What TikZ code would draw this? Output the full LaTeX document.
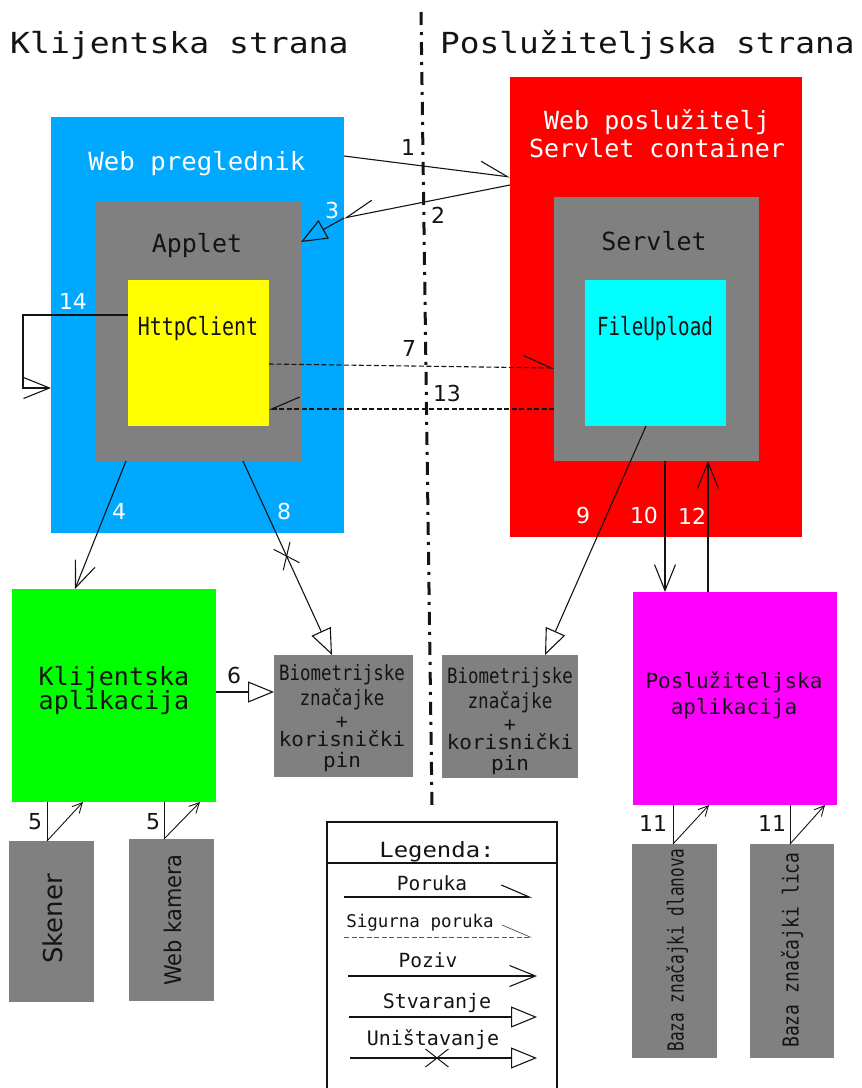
\documentclass[tikz,border=0pt]{standalone}
\usepackage{fontspec}
\usepackage{graphicx}
\setmainfont{DejaVu Sans Mono}
\newfontfamily\dvsans{DejaVu Sans}
\usetikzlibrary{arrows.meta,shapes.misc}
\newcommand\myfs[1]{\fontsize{#1}{#1}\selectfont}
\newcommand\sx[2]{\scalebox{#1}[1]{#2}}
\definecolor{cblue}{RGB}{0,168,255}
\definecolor{cgray}{RGB}{128,128,128}
\definecolor{cred}{RGB}{255,0,0}
\definecolor{cyel}{RGB}{255,255,0}
\definecolor{ccyan}{RGB}{0,255,255}
\definecolor{cgreen}{RGB}{0,255,0}
\definecolor{cmag}{RGB}{255,0,255}
\definecolor{ink}{RGB}{20,20,20}
\begin{document}
\begin{tikzpicture}[x=1pt,y=-1pt,
  box/.style={anchor=north west,inner sep=0pt,outer sep=0pt,draw=none},
  txt/.style={anchor=base,inner sep=0pt,text=ink},
  wtxt/.style={anchor=base,inner sep=0pt,text=white},
  num/.style={inner sep=0pt,font=\dvsans\myfs{22},text=ink},
  wnum/.style={num,text=white},
  con/.style={line width=1.1pt,draw=ink},
  msgl/.style={con,-{Straight Barb[left,length=28pt,width=24pt]}},
  msgr/.style={con,-{Straight Barb[right,length=28pt,width=24pt]}},
  call/.style={con,-{Straight Barb[length=26pt,width=21pt]}},
  minicall/.style={con,line width=0.9pt,-{Straight Barb[length=10pt,width=10pt]}},
  create/.style={con,-{Triangle[open,length=26pt,width=21pt]}},
  secure/.style={dash pattern=on 5pt off 2.5pt},
  xmark/.style={draw=ink,line width=1pt,cross out,sloped,minimum width=22pt,minimum height=17pt,inner sep=0pt},
  rot/.style={rotate=90,inner sep=0pt,text=ink},
]
\useasboundingbox (0,0) rectangle (862,1088);

% ---- boxes
\node[box,fill=cblue,minimum width=293pt,minimum height=416pt] (web) at (51,117) {};
\node[box,fill=cgray,minimum width=205pt,minimum height=260pt] (applet) at (96,201) {};
\node[box,fill=cyel,minimum width=141pt,minimum height=146pt] (http) at (128,280) {};
\node[box,fill=cred,minimum width=292pt,minimum height=460pt] (srv) at (510,77) {};
\node[box,fill=cgray,minimum width=205pt,minimum height=264pt] (servlet) at (554,197) {};
\node[box,fill=ccyan,minimum width=141pt,minimum height=146pt] (upl) at (585,280) {};
\node[box,fill=cgreen,minimum width=204pt,minimum height=213pt] (capp) at (12,589) {};
\node[box,fill=cgray,minimum width=139pt,minimum height=122pt] (bioL) at (274,655) {};
\node[box,fill=cgray,minimum width=136pt,minimum height=123pt] (bioR) at (442,655) {};
\node[box,fill=cmag,minimum width=204pt,minimum height=213pt] (sapp) at (633,592) {};
\node[box,fill=cgray,minimum width=85pt,minimum height=161pt] (sken) at (9,841) {};
\node[box,fill=cgray,minimum width=85pt,minimum height=162pt] (kam) at (129,839) {};
\node[box,fill=cgray,minimum width=85pt,minimum height=214pt] (dlan) at (632,844) {};
\node[box,fill=cgray,minimum width=84pt,minimum height=214pt] (lica) at (750,844) {};
\node[box,minimum width=230pt,minimum height=266pt] (leg) at (327,822) {};

% ---- separator
\coordinate (s1) at (421,12);
\coordinate (s2) at (432,805);
\draw[line width=3pt,ink,dash pattern=on 13pt off 7pt on 3pt off 7pt] (s1) -- (s2);

% ---- titles
\node[txt,anchor=base west,font=\myfs{29}] (tl) at (10,53) {\sx{1.14}{Klijentska strana}};
\node[txt,anchor=base west,font=\myfs{29}] (tr) at (440,53) {\sx{1.13}{Poslužiteljska strana}};

% ---- box texts
\node[wtxt,font=\myfs{25}] (tweb) at (197,170) {\sx{1.03}{Web preglednik}};
\node[txt,font=\myfs{25}] (tapl) at (197,252) {Applet};
\node[txt,font=\myfs{25}] (thttp) at (198,335) {\sx{0.8}{HttpClient}};
\node[wtxt,font=\myfs{25}] (tsrv1) at (657,129) {Web poslužitelj};
\node[wtxt,font=\myfs{25}] (tsrv2) at (657,157) {Servlet container};
\node[txt,font=\myfs{25}] (tsvl) at (654,250) {Servlet};
\node[txt,font=\myfs{25}] (tupl) at (655,335) {\sx{0.77}{FileUpload}};
\node[txt,font=\myfs{25}] (tca1) at (114,685) {Klijentska};
\node[txt,font=\myfs{25}] (tca2) at (114,709) {aplikacija};
\node[txt,font=\myfs{21}] (tsa1) at (734,688) {Poslužiteljska};
\node[txt,font=\myfs{21}] (tsa2) at (734,714) {aplikacija};

\node[txt,font=\myfs{21}] (bl1) at (342,680) {\sx{0.83}{Biometrijske}};
\node[txt,font=\myfs{21}] (bl2) at (342,705) {\sx{0.84}{značajke}};
\node[txt,font=\myfs{20}] (bl3) at (342,728) {+};
\node[txt,font=\myfs{20}] (bl4) at (342,746) {\sx{1.05}{korisnički}};
\node[txt,font=\myfs{20}] (bl5) at (342,767) {\sx{1.05}{pin}};

\node[txt,font=\myfs{21}] (br1) at (510,683) {\sx{0.83}{Biometrijske}};
\node[txt,font=\myfs{21}] (br2) at (510,708) {\sx{0.84}{značajke}};
\node[txt,font=\myfs{20}] (br3) at (510,731) {+};
\node[txt,font=\myfs{20}] (br4) at (510,749) {\sx{1.05}{korisnički}};
\node[txt,font=\myfs{20}] (br5) at (510,770) {\sx{1.05}{pin}};

\node[rot,font=\dvsans\myfs{26}] (tsken) at (53,919) {Skener};
\node[rot,font=\dvsans\myfs{23}] (tkam) at (173,920) {\sx{0.91}{Web kamera}};
\node[rot,font=\myfs{22}] (tdlan) at (677,950) {\sx{0.73}{Baza značajki dlanova}};
\node[rot,font=\myfs{22}] (tlica) at (792,950) {\sx{0.82}{Baza značajki lica}};

% ---- connectors
\draw[msgl] (web.east |- 0,156) -- (srv.west |- 0,177);
\draw[msgr] (srv.west |- 0,185) -- (web.east |- 0,218);
\draw[create] (web.east |- 0,218) -- (applet.east |- 0,242);
\coordinate (c14) at (23,351);
\draw[call] (http.west |- 0,315) -| (c14) |- (web.west |- 0,388);
\draw[msgl,secure] (http.east |- 0,364) -- (servlet.west |- 0,368);
\draw[msgr,secure] (servlet.west |- 0,409) -- (http.east |- 0,409);
\draw[call] (applet.south -| 126,0) -- (capp.north -| 75,0);
\draw[create] (applet.south -| 243,0) -- node[xmark,pos=0.49] (x8) {} (bioL.north -| 332,0);
\draw[create] (capp.east |- 0,692) -- (bioL.west |- 0,692);
\draw[create] (upl.south -| 646,0) -- (bioR.north -| 545,0);
\draw[call] (servlet.south -| 665,0) -- (sapp.north -| 665,0);
\draw[call] (sapp.north -| 708,0) -- (servlet.south -| 708,0);

\draw[con,line width=0.9pt] (capp.south -| 47,0) -- (sken.north -| 47,0);
\draw[minicall] (sken.north -| 47,0) -- (capp.south -| 83,0);
\draw[con,line width=0.9pt] (capp.south -| 164,0) -- (kam.north -| 164,0);
\draw[minicall] (kam.north -| 164,0) -- (capp.south -| 200,0);
\draw[con,line width=0.9pt] (sapp.south -| 673,0) -- (dlan.north -| 673,0);
\draw[minicall] (dlan.north -| 673,0) -- (sapp.south -| 709,0);
\draw[con,line width=0.9pt] (sapp.south -| 790,0) -- (lica.north -| 790,0);
\draw[minicall] (lica.north -| 790,0) -- (sapp.south -| 825,0);

% ---- numbers
\node[num] (n1) at (408,147) {1};
\node[num] (n2) at (438,215) {2};
\node[wnum] (n3) at (332,210) {3};
\node[wnum] (n4) at (119,511) {4};
\node[num] (n5a) at (35,822) {5};
\node[num] (n5b) at (153,822) {5};
\node[num] (n6) at (234,675) {6};
\node[num] (n7) at (409,348) {7};
\node[wnum] (n8) at (284,511) {8};
\node[wnum] (n9) at (583,515) {9};
\node[wnum] (n10) at (644,515) {10};
\node[num] (n11a) at (653,823) {11};
\node[num] (n11b) at (772,823) {11};
\node[wnum] (n12) at (692,516) {12};
\node[num] (n13) at (447,393) {13};
\node[wnum] (n14) at (73,301) {14};

% ---- legend
\draw[con,line width=1.3pt] (leg.south west) -- (leg.north west) -- (leg.north east) -- (leg.south east);
\draw[con,line width=1.3pt] (leg.west |- 0,863) -- (leg.east |- 0,863);
\node[txt,font=\myfs{21}] (tleg) at (437,857) {\sx{1.14}{Legenda:}};
\node[txt,font=\myfs{19.5}] (tl1) at (432,890) {Poruka};
\node[txt,font=\myfs{17.5}] (tl2) at (420,927) {Sigurna poruka};
\node[txt,font=\myfs{19.5}] (tl3) at (428,967) {Poziv};
\node[txt,font=\myfs{20}] (tl4) at (437,1008) {Stvaranje};
\node[txt,font=\myfs{20}] (tl5) at (433,1045) {Uništavanje};
\coordinate (a1) at (344,897); \coordinate (b1) at (532,897);
\draw[msgl] (a1) -- (b1);
\coordinate (a2) at (344,937); \coordinate (b2) at (532,937);
\draw[msgl,secure,line width=0.8pt,draw=ink!70] (a2) -- (b2);
\coordinate (a3) at (348,976); \coordinate (b3) at (537,976);
\draw[call] (a3) -- (b3);
\coordinate (a4) at (349,1017); \coordinate (b4) at (537,1017);
\draw[create] (a4) -- (b4);
\coordinate (a5) at (350,1058); \coordinate (b5) at (537,1058);
\draw[create] (a5) -- node[xmark,pos=0.465] (x5) {} (b5);
\end{tikzpicture}
\end{document}
